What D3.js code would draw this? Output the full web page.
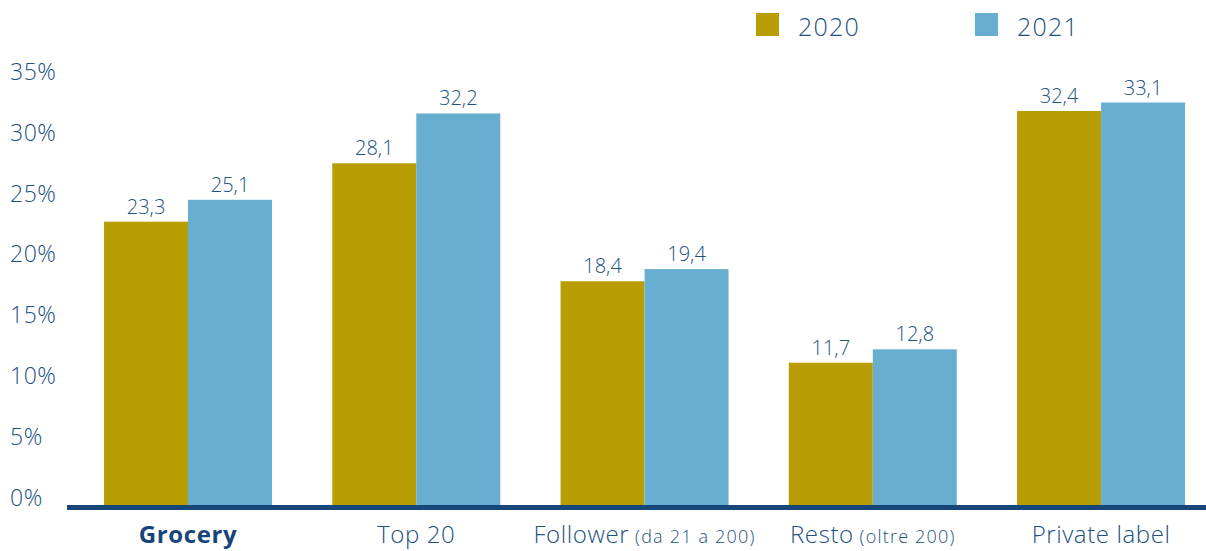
<!DOCTYPE html>
<html>
<head>
<meta charset="utf-8">
<script src="https://cdn.jsdelivr.net/npm/d3@7"></script>
<style>
  html, body { margin: 0; padding: 0; background: #fff; }
  svg { display: block; font-family: "Open Sans", "Lato", sans-serif; font-weight: 300; }
</style>
</head>
<body>
<svg id="chart" width="1206" height="551"></svg>
<script>
// Quota di mercato per segmento, 2020 vs 2021
const categories = ["Grocery", "Top 20", "Follower", "Resto", "Private label"];
const categoryNotes = ["", "", "(da 21 a 200)", "(oltre 200)", ""];
const years = ["2020", "2021"];
const values2020 = [23.3, 28.1, 18.4, 11.7, 32.4];
const values2021 = [25.1, 32.2, 19.4, 12.8, 33.1];
const yTicks = [0, 5, 10, 15, 20, 25, 30, 35];

const colors = { "2020": "#b89d04", "2021": "#68aed0" };
const textColor = "#22507f";
const axisColor = "#164778";

const svg = d3.select("#chart");
const W = 1206, H = 551;

const y = d3.scaleLinear().domain([0, 35]).range([505, 79.4]);

const x = d3.scaleBand()
  .domain(categories)
  .range([66.6, 1222.5])
  .paddingInner(0.264)
  .paddingOuter(0.164);

const xInner = d3.scaleBand().domain(years).range([0, x.bandwidth()]);

const fmt = v => d3.format(".1f")(v).replace(".", ",");

// Y axis labels (no domain line, no tick marks)
const yAxis = svg.append("g")
  .attr("transform", "translate(10,0)")
  .call(d3.axisLeft(y).tickValues(yTicks).tickSize(0).tickFormat(d => d + "%"));
yAxis.select(".domain").remove();
yAxis.selectAll("text")
  .attr("x", 0).attr("dy", 0)
  .attr("text-anchor", "start")
  .attr("fill", textColor)
  .style("font-size", "23px")
  .style("letter-spacing", "0.5px")
  .style("font-family", "'Open Sans', sans-serif")
  .style("font-weight", 300);

// Bars
const rows = categories.map((c, i) => ({ cat: c, vals: [
  { year: "2020", v: values2020[i] },
  { year: "2021", v: values2021[i] }
]}));

const groups = svg.append("g").selectAll("g")
  .data(rows).join("g")
  .attr("transform", d => `translate(${x(d.cat)},0)`);

groups.selectAll("rect")
  .data(d => d.vals).join("rect")
  .attr("x", d => xInner(d.year))
  .attr("width", xInner.bandwidth())
  .attr("y", d => y(d.v))
  .attr("height", d => y(0) - y(d.v))
  .attr("fill", d => colors[d.year]);

groups.selectAll("text.val")
  .data(d => d.vals).join("text")
  .attr("class", "val")
  .attr("x", d => xInner(d.year) + xInner.bandwidth() / 2)
  .attr("y", d => y(d.v) - 8)
  .attr("text-anchor", "middle")
  .attr("fill", textColor)
  .style("font-size", "20px")
  .text(d => fmt(d.v));

// Baseline
svg.append("line")
  .attr("x1", 67).attr("x2", W)
  .attr("y1", y(0) + 2.5).attr("y2", y(0) + 2.5)
  .attr("stroke", axisColor)
  .attr("stroke-width", 5);

// Category labels
const catLabels = svg.append("g").selectAll("text")
  .data(categories).join("text")
  .attr("x", d => x(d) + x.bandwidth() / 2)
  .attr("y", 543)
  .attr("text-anchor", "middle")
  .attr("fill", (d, i) => i === 0 ? "#17457a" : textColor)
  .style("font-size", "24px")
  .style("letter-spacing", "0.6px")
  .style("font-weight", (d, i) => i === 0 ? 700 : 300);

catLabels.append("tspan").text(d => d);
catLabels.append("tspan")
  .style("font-size", "18px")
  .style("letter-spacing", "1.2px")
  .text((d, i) => categoryNotes[i] ? " " + categoryNotes[i] : "");

// Legend
const legendX = [756, 975];
const legend = svg.append("g").selectAll("g")
  .data(years).join("g")
  .attr("transform", (d, i) => `translate(${legendX[i]},13)`);
legend.append("rect")
  .attr("width", 23).attr("height", 23)
  .attr("fill", d => colors[d]);
legend.append("text")
  .attr("x", 42).attr("y", 23)
  .attr("fill", textColor)
  .style("font-size", "25px")
  .style("letter-spacing", "1.2px")
  .text(d => d);
</script>
</body>
</html>
